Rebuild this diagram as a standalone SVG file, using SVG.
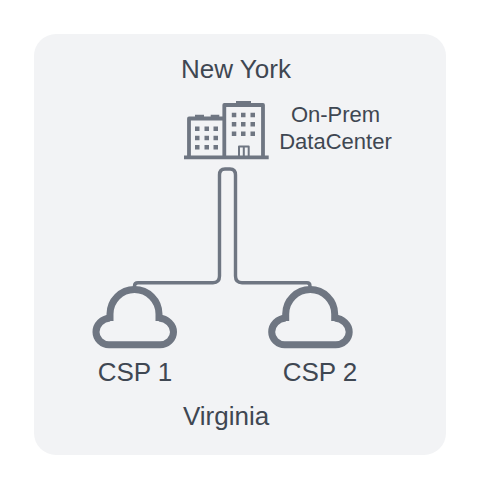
<svg xmlns="http://www.w3.org/2000/svg" width="480" height="489" viewBox="0 0 480 489">
<style>
.t{font-family:"Liberation Sans",Arial,sans-serif;fill:#3f4752;text-anchor:middle}
.l{fill:none;stroke:#6f7682;stroke-linejoin:round}
.f{fill:#6f7682}
</style>
<defs>
<path id="cloud" class="l" stroke-width="7" d="M110 321V314A24.500 24.500 0 0 1 159 314V321M110 318C102 318.500 96 325 96 332C96 339 102 344.700 109 344.700H160C167.500 344.700 173.500 339 173.500 332C173.500 325 167 318.500 159 318"/>
</defs>
<rect x="0" y="0" width="480" height="489" fill="#ffffff"/>
<rect id="panel" x="34" y="34" width="412" height="421" rx="22" fill="#f2f3f5"/>
<g id="connectors">
<path class="l" stroke-width="3.400" d="M134.500 287V286Q134.500 282.700 138 282.700H213Q219.500 282.700 219.500 276V175Q219.500 169 225 169H230Q235.500 169 235.500 175V276Q235.500 282.700 242 282.700H307Q310 282.700 310 286V287"/>
</g>
<g id="datacenter">
<path class="l" stroke-width="3.800" d="M184 157.300H268.700M189 157V118.500H224.300M224.300 157V105H263V157"/>
<path class="f" d="M195 114.700h9v4h-9zM210.700 114.700h8.600v4h-8.600zM236 101h15v4h-15z"/>
<path class="f" d="M195 126.500h4.500v4.500h-4.500zM204.500 126.500h4.500v4.500h-4.500zM213.500 126.500h4.500v4.500h-4.500zM195 135.800h4.500v4.500h-4.500zM204.500 135.800h4.500v4.500h-4.500zM213.500 135.800h4.500v4.500h-4.500zM195 145h4.500v4.500h-4.500zM204.500 145h4.500v4.500h-4.500zM213.500 145h4.500v4.500h-4.500zM231.800 112.800h4.500v4.500h-4.500zM241 112.800h4.500v4.500h-4.500zM250.500 112.800h4.500v4.500h-4.500zM231.800 122h4.500v4.500h-4.500zM241 122h4.500v4.500h-4.500zM250.500 122h4.500v4.500h-4.500zM231.800 131.500h4.500v4.500h-4.500zM241 131.500h4.500v4.500h-4.500zM250.500 131.500h4.500v4.500h-4.500z"/>
<path class="l" stroke-width="2" d="M239 157V146.500H248.700V157M243.800 146.500V157"/>
<text class="t" x="335.500" y="122" font-size="22">On-Prem</text>
<text class="t" x="335.500" y="149" font-size="22">DataCenter</text>
</g>
<g id="newyork"><text class="t" x="236" y="77.500" font-size="26">New York</text></g>
<g id="csp1"><use href="#cloud"/><text class="t" x="135" y="381" font-size="26">CSP 1</text></g>
<g id="csp2"><use href="#cloud" x="175.700"/><text class="t" x="320" y="381" font-size="26">CSP 2</text></g>
<g id="virginia"><text class="t" x="226" y="425" font-size="26">Virginia</text></g>
</svg>
